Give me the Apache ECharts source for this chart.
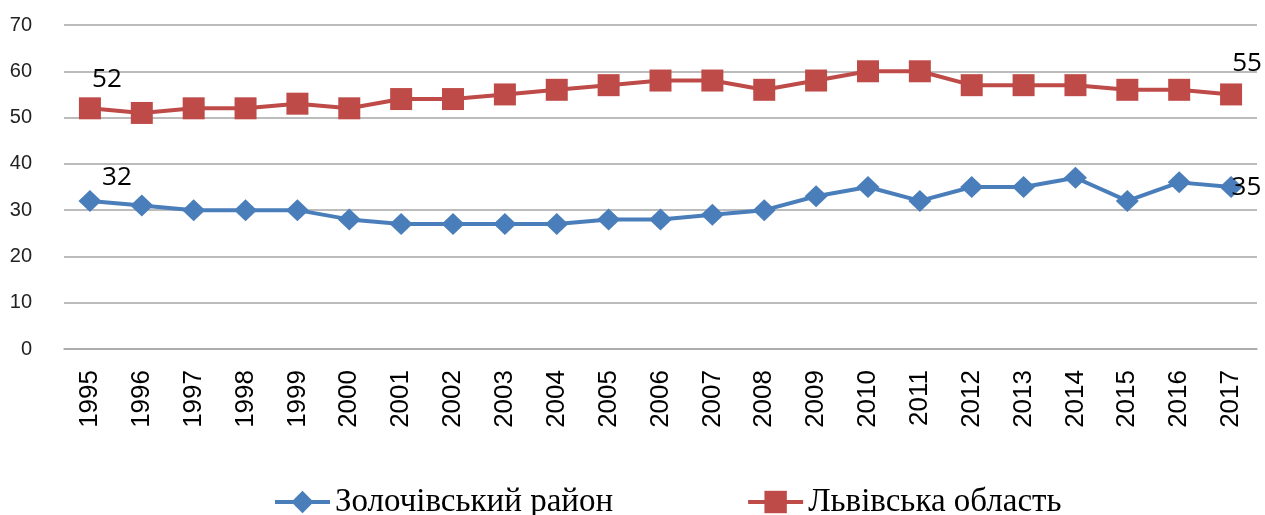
<!DOCTYPE html>
<html>
<head>
<meta charset="utf-8">
<script src="https://cdn.jsdelivr.net/npm/echarts@6/dist/echarts.min.js"></script>
<style>
  html, body { margin: 0; padding: 0; background: #fff; }
  #chart { width: 1265px; height: 515px; }
</style>
</head>
<body>
<div id="chart"></div>
<script>
// роки
const years = ['1995', '1996', '1997', '1998', '1999', '2000', '2001', '2002', '2003', '2004', '2005', '2006',
  '2007', '2008', '2009', '2010', '2011', '2012', '2013', '2014', '2015', '2016', '2017'];
// Золочівський район
const zolochivValues = [32, 31, 30, 30, 30, 28, 27, 27, 27, 27, 28, 28, 29, 30, 33, 35, 32, 35, 35, 37, 32, 36, 35];
// Львівська область
const lvivValues = [52, 51, 52, 52, 53, 52, 54, 54, 55, 56, 57, 58, 58, 56, 58, 60, 60, 57, 57, 57, 56, 56, 55];
const seriesNames = ['Золочівський район', 'Львівська область'];
const yTicks = [0, 10, 20, 30, 40, 50, 60, 70];

const labelFont = { fontFamily: 'Open Sans', fontSize: 26, color: '#000' };

// підписи лише для першої та останньої точки
function withEndLabels(values, firstLabel, lastLabel) {
  return values.map((v, i) => {
    if (i === 0) return { value: v, label: Object.assign({ show: true }, labelFont, firstLabel) };
    if (i === values.length - 1) return { value: v, label: Object.assign({ show: true }, labelFont, lastLabel) };
    return v;
  });
}

const chart = echarts.init(document.getElementById('chart'));
chart.setOption({
  animation: false,
  grid: { left: 64, right: 8, top: 25, bottom: 166, containLabel: false },
  legend: {
    top: 479,
    left: 268,
    itemGap: 133,
    itemWidth: 55,
    itemHeight: 28,
    lineStyle: { width: 4 },
    textStyle: { fontFamily: 'Liberation Serif', fontSize: 33, lineHeight: 36, color: '#000' },
    data: seriesNames
  },
  xAxis: {
    type: 'category',
    data: years,
    boundaryGap: true,
    axisLine: { show: true, lineStyle: { color: '#a6a6a6', width: 1.5 } },
    axisTick: { show: false },
    axisLabel: {
      rotate: 90,
      margin: 21,
      fontFamily: 'Liberation Sans',
      fontSize: 26,
      color: '#000'
    }
  },
  yAxis: {
    type: 'value',
    min: yTicks[0],
    max: yTicks[yTicks.length - 1],
    interval: 10,
    axisLine: { show: false },
    axisTick: { show: false },
    splitLine: { lineStyle: { color: '#a6a6a6', width: 1.5 } },
    axisLabel: {
      margin: 32,
      fontFamily: 'Liberation Sans',
      fontSize: 20,
      color: '#222'
    }
  },
  series: [
    {
      name: seriesNames[0],
      type: 'line',
      data: withEndLabels(zolochivValues,
        { position: 'top', offset: [27, 6] },
        { position: 'right', offset: [-16, 1] }),
      symbol: 'diamond',
      symbolSize: [23, 22],
      color: '#4a7ebb',
      lineStyle: { width: 4, color: '#4a7ebb' },
      itemStyle: { color: '#4a7ebb' },
      z: 3
    },
    {
      name: seriesNames[1],
      type: 'line',
      data: withEndLabels(lvivValues,
        { position: 'top', offset: [17, 0] },
        { position: 'top', offset: [16, -2] }),
      symbol: 'rect',
      symbolSize: 22,
      color: '#be4b48',
      lineStyle: { width: 4, color: '#be4b48' },
      itemStyle: { color: '#be4b48' },
      z: 2
    }
  ]
});
</script>
</body>
</html>
